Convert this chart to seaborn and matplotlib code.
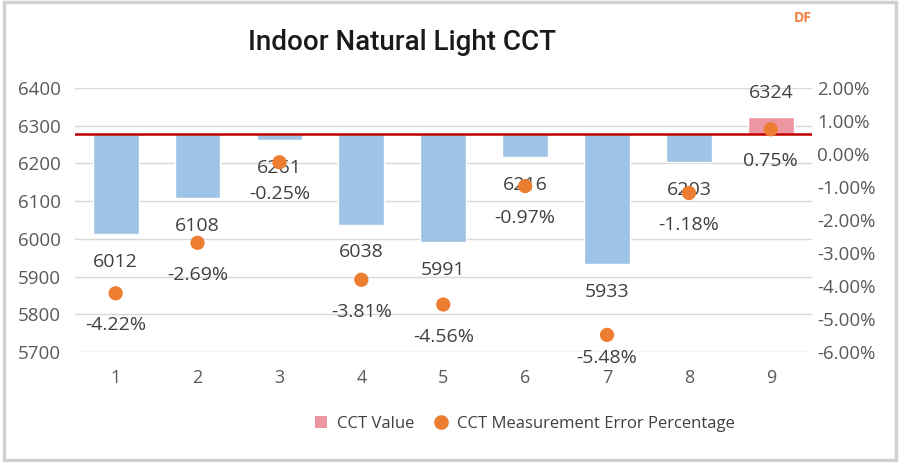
import matplotlib
matplotlib.use("Agg")
import matplotlib.pyplot as plt
import seaborn as sns
import pandas as pd
from matplotlib.lines import Line2D
from matplotlib.patches import Patch, Rectangle
from matplotlib.ticker import FuncFormatter, MultipleLocator

# data
points = ["1", "2", "3", "4", "5", "6", "7", "8", "9"]
cct = [6012, 6108, 6261, 6038, 5991, 6216, 5933, 6203, 6324]
err_pct = [-4.22, -2.69, -0.25, -3.81, -4.56, -0.97, -5.48, -1.18, 0.75]
reference_cct = 6277

BLUE = "#9DC3E6"
PINK = "#EE95A2"
ORANGE = "#ED7D31"
RED = "#C00000"
GRID = "#D9D9D9"
TICK = "#595959"
LABEL = "#404040"

sns.set_theme(style="white")
plt.rcParams["font.family"] = ["Open Sans", "DejaVu Sans"]

df = pd.DataFrame({"point": points, "cct": cct, "err": err_pct})
df["delta"] = df["cct"] - reference_cct
colors = [PINK if d > 0 else BLUE for d in df["delta"]]

fig = plt.figure(figsize=(9, 4.62), dpi=100)
ax = fig.add_axes([0.083, 0.238, 0.819, 0.5714])

sns.barplot(data=df, x="point", y="delta", hue="point", palette=colors,
            bottom=reference_cct, width=0.56, legend=False, ax=ax,
            saturation=1, zorder=2)
ax.set_ylim(5700, 6400)
ax.set_xlim(-0.5, 8.5)
ax.yaxis.set_major_locator(MultipleLocator(100))
ax.grid(axis="y", color=GRID, lw=1, zorder=0)
ax.set_axisbelow(True)
ax.axhline(reference_cct, color=RED, lw=1.8, zorder=3)
for s in ax.spines.values():
    s.set_visible(False)
ax.set_xlabel("")
ax.set_ylabel("")
ax.tick_params(axis="both", length=0, labelsize=13.5, colors=TICK, pad=10)
ax.tick_params(axis="x", pad=12, labelsize=13)

# value labels just outside the bar end
for i, (v, d) in enumerate(zip(df["cct"], df["delta"])):
    off = 17 if d > 0 else -20
    ax.annotate(f"{v}", (i, v), xytext=(0, off), textcoords="offset points",
                ha="center", va="center", fontsize=14, color=LABEL, zorder=6)

ax2 = ax.twinx()
sns.scatterplot(x=list(range(len(points))), y=err_pct, color=ORANGE, s=105,
                edgecolor="none", ax=ax2, zorder=5)
ax2.set_ylim(-6, 2)
ax2.yaxis.set_major_locator(MultipleLocator(1))
ax2.yaxis.set_major_formatter(FuncFormatter(lambda v, _: f"{v:.2f}%"))
ax2.tick_params(axis="y", length=0, labelsize=13.5, colors=TICK, pad=4)
for s in ax2.spines.values():
    s.set_visible(False)
ax2.grid(False)

for i, p in enumerate(err_pct):
    ax2.text(i, max(p - 0.97, -6.18), f"{p:.2f}%", ha="center", va="center",
             fontsize=14, color=LABEL, zorder=6)

fig.text(0.447, 0.907, "Indoor Natural Light CCT", ha="center", va="center",
         fontsize=20, color="#1a1a1a", fontweight="medium",
         family=["Roboto", "DejaVu Sans"])
fig.text(0.892, 0.962, "DF", ha="center", va="center", fontsize=10,
         color="#F07F3C", fontweight="bold")

handles = [
    Patch(facecolor=PINK, edgecolor="none", label="CCT Value"),
    Line2D([], [], marker="o", ls="none", color=ORANGE, markersize=9.5,
           label="CCT Measurement Error Percentage"),
]
leg = fig.legend(handles=handles, loc="center", bbox_to_anchor=(0.583, 0.082),
                 ncol=2, frameon=False, fontsize=12, handlelength=0.75,
                 handleheight=0.75, handletextpad=0.6, columnspacing=1.2)
for t in leg.get_texts():
    t.set_color(LABEL)

fig.patches.append(Rectangle((0.004, 0.005), 0.991, 0.99, transform=fig.transFigure,
                             fill=False, edgecolor="#D0D0D0", lw=2.5))

fig.savefig("out.png", dpi=100)
